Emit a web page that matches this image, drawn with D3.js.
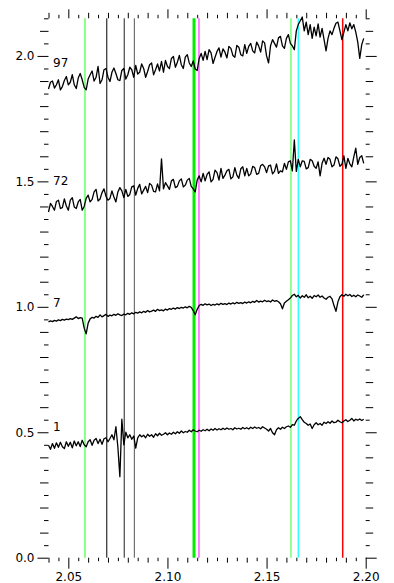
<!DOCTYPE html>
<html>
<head>
<meta charset="utf-8">
<script src="https://cdn.jsdelivr.net/npm/d3@7"></script>
<style>
body { margin: 0; background: #fff; }
text { font-family: "DejaVu Sans", sans-serif; font-size: 12px; fill: #000; }
</style>
</head>
<body>
<svg width="394" height="583"></svg>
<script>
// spectra, sampled every 0.001 from 2.040 to 2.199 (offset applied already)
const waveStart = 2.040, waveStep = 0.001;

const spec97 = [
 1.868,1.895,1.900,1.872,1.885,1.905,1.865,1.878,1.902,1.918,1.885,1.895,1.925,1.885,1.870,1.912,1.930,1.905,1.875,1.865,
 1.908,1.925,1.940,1.900,1.915,1.958,1.890,1.905,1.945,1.950,1.915,1.898,1.935,1.952,1.930,1.905,1.902,1.942,1.950,1.908,
 1.925,1.955,1.945,1.915,1.962,1.928,1.935,1.968,1.950,1.915,1.938,1.965,1.972,1.925,1.945,1.968,1.940,1.978,1.935,1.982,
 1.958,1.950,1.990,1.998,1.955,1.975,2.002,1.965,1.950,1.995,2.005,1.972,1.958,1.980,1.948,1.942,1.990,2.010,1.982,2.018,
 1.985,2.025,2.012,1.970,1.995,2.018,2.032,1.995,2.028,2.015,1.992,2.038,2.030,2.002,1.995,2.042,2.035,2.005,2.000,2.045,
 2.010,2.038,2.050,2.020,2.012,2.055,2.040,2.015,2.060,2.052,2.000,1.972,2.040,2.065,2.050,2.035,2.072,2.078,2.040,2.030,
 2.070,2.085,2.050,2.040,2.025,2.100,2.125,2.140,2.155,2.100,2.135,2.085,2.125,2.070,2.115,2.080,2.128,2.075,2.110,2.065,
 2.020,2.070,2.100,2.085,2.110,2.130,2.135,2.100,2.065,2.095,2.125,2.100,2.132,2.108,2.125,2.095,2.055,1.990,2.045,2.070
];
const spec72 = [
 1.378,1.412,1.400,1.385,1.420,1.425,1.392,1.395,1.430,1.402,1.385,1.425,1.435,1.398,1.392,1.418,1.428,1.385,1.400,1.432,
 1.445,1.418,1.428,1.458,1.468,1.422,1.430,1.455,1.470,1.440,1.425,1.432,1.462,1.438,1.418,1.458,1.475,1.462,1.435,1.468,
 1.440,1.448,1.478,1.482,1.445,1.472,1.488,1.450,1.465,1.480,1.455,1.492,1.485,1.460,1.458,1.490,1.462,1.590,1.470,1.495,
 1.482,1.468,1.502,1.508,1.475,1.480,1.502,1.510,1.478,1.485,1.505,1.512,1.480,1.470,1.458,1.505,1.522,1.498,1.532,1.502,
 1.528,1.538,1.498,1.508,1.545,1.535,1.505,1.552,1.512,1.525,1.542,1.548,1.510,1.518,1.555,1.525,1.512,1.550,1.558,1.522,
 1.552,1.522,1.530,1.560,1.555,1.528,1.532,1.562,1.568,1.558,1.535,1.562,1.565,1.530,1.540,1.570,1.532,1.542,1.538,1.572,
 1.548,1.578,1.582,1.542,1.665,1.540,1.588,1.558,1.582,1.580,1.550,1.555,1.588,1.582,1.560,1.552,1.578,1.522,1.572,1.592,
 1.568,1.595,1.588,1.558,1.565,1.598,1.590,1.560,1.568,1.602,1.552,1.592,1.570,1.558,1.598,1.632,1.568,1.595,1.602,1.572
];
const spec7 = [
 0.940,0.944,0.941,0.946,0.943,0.948,0.945,0.950,0.947,0.951,0.949,0.953,0.950,0.955,0.960,0.953,0.957,0.955,0.915,0.892,
 0.935,0.952,0.958,0.955,0.962,0.958,0.968,0.960,0.965,0.970,0.962,0.967,0.964,0.970,0.966,0.972,0.968,0.965,0.971,0.968,
 0.974,0.970,0.976,0.972,0.978,0.975,0.980,0.976,0.982,0.978,0.985,0.980,0.983,0.987,0.982,0.990,0.985,0.988,0.984,0.991,
 0.987,0.993,0.990,0.995,0.991,0.997,0.993,0.998,0.995,1.000,0.996,1.002,0.998,0.985,0.968,0.990,1.005,1.010,1.006,1.012,
 1.008,1.011,1.005,1.010,1.007,1.012,1.008,1.014,1.010,1.013,1.009,1.015,1.011,1.016,1.012,1.018,1.014,1.017,1.013,1.019,
 1.015,1.020,1.016,1.022,1.018,1.025,1.019,1.023,1.020,1.026,1.021,1.024,1.019,1.027,1.022,1.025,1.020,1.012,0.992,1.015,
 1.022,1.028,1.035,1.045,1.050,1.040,1.046,1.035,1.044,1.038,1.048,1.036,1.042,1.034,1.045,1.040,1.047,1.038,1.043,1.035,
 1.030,1.038,1.042,1.032,1.005,0.982,1.020,1.040,1.048,1.042,1.050,1.044,1.049,1.041,1.046,1.040,1.047,1.043,1.038,1.048
];
const spec1 = [
 0.448,0.432,0.455,0.436,0.458,0.440,0.460,0.442,0.435,0.462,0.444,0.460,0.438,0.465,0.446,0.462,0.443,0.468,0.450,0.442,
 0.462,0.470,0.448,0.468,0.475,0.455,0.472,0.452,0.474,0.478,0.462,0.475,0.490,0.470,0.522,0.440,0.323,0.552,0.450,0.500,
 0.478,0.490,0.472,0.485,0.437,0.478,0.490,0.482,0.488,0.478,0.492,0.484,0.490,0.480,0.494,0.486,0.496,0.488,0.492,0.498,
 0.490,0.497,0.492,0.500,0.494,0.502,0.496,0.505,0.498,0.503,0.500,0.508,0.502,0.510,0.505,0.502,0.508,0.504,0.510,0.506,
 0.512,0.506,0.513,0.508,0.515,0.509,0.514,0.510,0.516,0.511,0.517,0.512,0.515,0.510,0.518,0.513,0.516,0.512,0.519,0.514,
 0.518,0.513,0.520,0.515,0.521,0.516,0.519,0.514,0.522,0.517,0.512,0.505,0.515,0.498,0.490,0.510,0.518,0.512,0.520,0.515,
 0.522,0.525,0.520,0.530,0.528,0.545,0.555,0.562,0.550,0.540,0.535,0.528,0.533,0.515,0.530,0.538,0.530,0.535,0.528,0.540,
 0.535,0.542,0.536,0.545,0.538,0.540,0.548,0.542,0.538,0.545,0.550,0.543,0.548,0.555,0.545,0.552,0.548,0.553,0.547,0.552
];

const specNames = ["97", "72", "7", "1"];
const specLabelY = [1.955, 1.485, 1.0, 0.505];

// marked line positions
const lineWaves = [2.0584, 2.0694, 2.0782, 2.0833, 2.1134, 2.1159, 2.1623, 2.1660, 2.1884];
const lineColors = ["#66ff66", "#000", "#222", "#555", "#00ee00", "#ff33ff", "#77ff77", "#33ffff", "#ff0000"];
const lineWidths = [1.5, 1, 1, 1, 3, 1.2, 1.5, 1.5, 1.5];

const xLabels = [2.05, 2.10, 2.15, 2.20];
const yLabels = [0.0, 0.5, 1.0, 1.5, 2.0];

const svg = d3.select("svg");
const x = d3.scaleLinear().domain([2.04, 2.20]).range([48.5, 365.7]);
const y = d3.scaleLinear().domain([0, 2.15]).range([557.7, 18.3]);

// ticks
function ticksAt(step, lo, hi) {
    return d3.range(Math.round(lo / step), Math.round(hi / step) + 1).map(k => +(k * step).toFixed(3));
}
const near = (v, s) => Math.abs(v / s - Math.round(v / s)) < 1e-6;

const xAll = ticksAt(0.005, 2.04, 2.20);
const xMid = xAll.filter(v => !near(v, 0.05) && near(v, 0.01));
const xMin = xAll.filter(v => !near(v, 0.01));

const yAll = ticksAt(0.05, 0, 2.15);
const yMid = yAll.filter(v => !near(v, 0.5) && near(v, 0.1));
const yMin = yAll.filter(v => !near(v, 0.1));

function addAxis(axis, tx, ty) {
    const g = svg.append("g").attr("transform", `translate(${tx},${ty})`).call(axis);
    g.select(".domain").remove();
    g.selectAll(".tick line").attr("stroke", "#000");
    g.selectAll("text").attr("font-family", null).attr("font-size", null);
    return g;
}
const blank = () => "";

// bottom
addAxis(d3.axisBottom(x).tickValues(xLabels).tickSize(11).tickPadding(3.3).tickFormat(d3.format(".2f")), 0, y(0));
addAxis(d3.axisBottom(x).tickValues(xMid).tickSize(5).tickFormat(blank), 0, y(0));
addAxis(d3.axisBottom(x).tickValues(xMin).tickSize(3.5).tickFormat(blank), 0, y(0));
// top
addAxis(d3.axisTop(x).tickValues(xLabels).tickSize(9).tickFormat(blank), 0, y(2.15));
addAxis(d3.axisTop(x).tickValues(xMid).tickSize(5.5).tickFormat(blank), 0, y(2.15));
addAxis(d3.axisTop(x).tickValues(xMin).tickSize(3.5).tickFormat(blank), 0, y(2.15));
// left
addAxis(d3.axisLeft(y).tickValues(yLabels).tickSize(11).tickPadding(3).tickFormat(d3.format(".1f")), x(2.04), 0);
addAxis(d3.axisLeft(y).tickValues(yMid).tickSize(8.5).tickFormat(blank), x(2.04), 0);
addAxis(d3.axisLeft(y).tickValues(yMin).tickSize(4.5).tickFormat(blank), x(2.04), 0);
// right
addAxis(d3.axisRight(y).tickValues(yLabels).tickSize(11).tickFormat(blank), x(2.20), 0);
addAxis(d3.axisRight(y).tickValues(yMid).tickSize(7.5).tickFormat(blank), x(2.20), 0);
addAxis(d3.axisRight(y).tickValues(yMin).tickSize(4).tickFormat(blank), x(2.20), 0);

// vertical marker lines
svg.append("g").selectAll("line")
    .data(lineWaves)
    .enter().append("line")
    .attr("x1", d => x(d)).attr("x2", d => x(d))
    .attr("y1", y(0)).attr("y2", y(2.15))
    .attr("stroke", (d, i) => lineColors[i])
    .attr("stroke-width", (d, i) => lineWidths[i]);

// spectra
const spectra = [spec97, spec72, spec7, spec1];
const line = d3.line()
    .x((d, i) => x(waveStart + i * waveStep))
    .y(d => y(d));

svg.append("g").selectAll("path")
    .data(spectra)
    .enter().append("path")
    .attr("d", line)
    .attr("fill", "none")
    .attr("stroke", "#000")
    .attr("stroke-width", 1.3)
    .attr("stroke-linejoin", "round");

svg.append("g").selectAll("text")
    .data(specNames)
    .enter().append("text")
    .attr("x", x(2.0423))
    .attr("y", (d, i) => y(specLabelY[i]))
    .text(d => d);
</script>
</body>
</html>
